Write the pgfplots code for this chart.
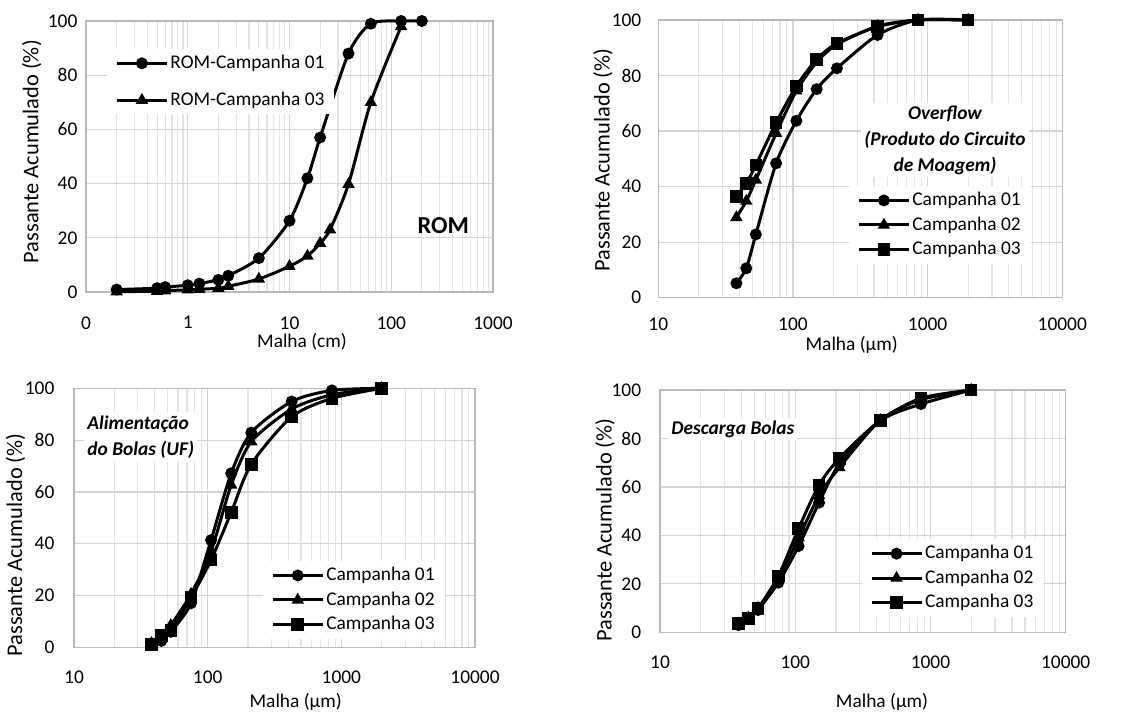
\documentclass[border=0pt]{standalone}
\usepackage{fontspec}
\setmainfont{Carlito}
\usepackage{pgfplots}
\pgfplotsset{compat=1.18}

\pgfplotsset{
  scale only axis,
  ymin=0, ymax=100, ytick={0,20,...,100},
  grid=both,
  major grid style={draw=black!17, line width=0.6pt},
  minor grid style={draw=black!11, line width=0.6pt},
  axis line style={draw=black!28, line width=0.6pt},
  major tick length=0pt, minor tick length=0pt,
  /pgf/number format/assume math mode=true,
  clip=false,
  legend cell align=left,
  legend image code/.code={\draw[mark repeat=2,mark phase=2,#1,line width=1.5pt] plot coordinates {(0pt,0pt) (12.5pt,0pt) (25pt,0pt)};},
  legend style={draw=none, fill=white, anchor=north west, inner xsep=4pt, inner ysep=2pt,
    nodes={inner sep=1pt}, row sep=2pt},
}

\begin{document}
\begin{tikzpicture}[font=\fontsize{9.7}{11.6}\selectfont]
\useasboundingbox (0,0) rectangle (569pt,-356.5pt);

% ROM
\begin{semilogxaxis}[anchor=south west, at={(43pt,-146pt)}, width=203.5pt, height=135.5pt,
  xmin=0.1, xmax=1000, xtick={0.1,1,10,100,1000}, xticklabels={0,1,10,100,1000},
  minor xtick={0.2,0.3,0.4,0.5,0.6,0.7,0.8,0.9,2,3,4,5,6,7,8,9,20,30,40,50,60,70,80,90,200,300,400,500,600,700,800,900},
  xticklabel style={yshift=-8.7pt}, yticklabel style={xshift=-0.8pt},
  legend style={at={(0.0516,0.898)}, row sep=8.2pt}]
\addplot[black, line width=1.5pt, smooth, tension=0.45, mark=*, mark size=2.2pt] coordinates {(0.2,0.9) (0.5,1.4) (0.6,1.8) (1,2.5) (1.3,3.1) (2,4.5) (2.5,6.0) (5,12.5) (10,26.3) (15,42) (20,57) (38,88) (63,99) (125,100) (200,100)};
\addplot[black, line width=1.5pt, smooth, tension=0.45, mark=triangle*, mark size=2.1pt] coordinates {(0.2,0.1) (0.5,0.3) (0.6,0.5) (1,0.8) (1.3,1.0) (2,1.4) (2.5,2.1) (5,4.8) (10,9.5) (15,13.3) (20,18) (25,23) (38,39.8) (63,70) (125,98)};
\legend{ROM-Campanha 01,ROM-Campanha 03}
\end{semilogxaxis}

% Overflow
\begin{semilogxaxis}[anchor=south west, at={(329.15pt,-148.85pt)}, width=202pt, height=138.85pt,
  xmin=10, xmax=10000, xtick={10,100,1000,10000}, xticklabels={10,100,1000,10000},
  minor xtick={20,30,40,50,60,70,80,90,200,300,400,500,600,700,800,900,2000,3000,4000,5000,6000,7000,8000,9000},
  xticklabel style={yshift=-6.4pt}, yticklabel style={xshift=-5pt},
  legend style={at={(0.472,0.403)}}]
\addplot[black, line width=1.5pt, smooth, tension=0.45, mark=*, mark size=2.2pt] coordinates {(38,5.2) (45,10.6) (53,22.8) (75,48.4) (106,63.7) (150,75.1) (212,82.6) (425,94.6) (850,100) (2000,100)};
\addplot[black, line width=1.5pt, smooth, tension=0.45, mark=triangle*, mark size=2.1pt] coordinates {(38,28.9) (45,34.8) (53,42.4) (75,59.2) (106,74.5) (150,84.8) (212,91.2) (425,97.8) (850,100) (2000,100)};
\addplot[black, line width=1.5pt, smooth, tension=0.45, mark=square*, mark size=2.4pt] coordinates {(38,36.4) (45,41.2) (53,47.8) (75,63) (106,76.2) (150,85.8) (212,91.6) (425,97.6) (850,100) (2000,100)};
\legend{Campanha 01,Campanha 02,Campanha 03}
\end{semilogxaxis}

% Alimentacao
\begin{semilogxaxis}[anchor=south west, at={(37pt,-323.65pt)}, width=200.5pt, height=129.5pt,
  xmin=10, xmax=10000, xtick={10,100,1000,10000}, xticklabels={10,100,1000,10000},
  minor xtick={20,30,40,50,60,70,80,90,200,300,400,500,600,700,800,900,2000,3000,4000,5000,6000,7000,8000,9000},
  xticklabel style={yshift=-8.4pt}, yticklabel style={xshift=-6.3pt},
  legend style={at={(0.471,0.334)}}]
\addplot[black, line width=1.5pt, smooth, tension=0.45, mark=*, mark size=2.2pt] coordinates {(38,1.5) (45,2.5) (53,6) (75,17) (106,41.4) (150,67.2) (212,82.9) (425,94.9) (850,99.2) (2000,100)};
\addplot[black, line width=1.5pt, smooth, tension=0.45, mark=triangle*, mark size=2.1pt] coordinates {(38,1.5) (45,4) (53,8.5) (75,20.5) (106,37) (150,62.7) (212,79.4) (425,92) (850,97.5) (2000,100)};
\addplot[black, line width=1.5pt, smooth, tension=0.45, mark=square*, mark size=2.4pt] coordinates {(38,1) (45,4.5) (53,6.4) (75,19.2) (106,33.7) (150,52.1) (212,70.7) (425,89) (850,96.1) (2000,100)};
\legend{Campanha 01,Campanha 02,Campanha 03}
\end{semilogxaxis}

% Descarga
\begin{semilogxaxis}[anchor=south west, at={(330pt,-316.15pt)}, width=202.85pt, height=121.15pt,
  xmin=10, xmax=10000, xtick={10,100,1000,10000}, xticklabels={10,100,1000,10000},
  minor xtick={20,30,40,50,60,70,80,90,200,300,400,500,600,700,800,900,2000,3000,4000,5000,6000,7000,8000,9000},
  xticklabel style={yshift=-8.4pt}, yticklabel style={xshift=-5.9pt},
  legend style={at={(0.497,0.385)}}]
\addplot[black, line width=1.5pt, smooth, tension=0.45, mark=*, mark size=2.2pt] coordinates {(38,3) (45,5.5) (53,9.2) (75,20.5) (106,35.6) (150,53.5) (212,69.5) (425,87.3) (850,94.2) (2000,100)};
\addplot[black, line width=1.5pt, smooth, tension=0.45, mark=triangle*, mark size=2.1pt] coordinates {(38,3.5) (45,6) (53,10) (75,22) (106,39) (150,56.5) (212,68) (425,87.5) (850,96) (2000,100)};
\addplot[black, line width=1.5pt, smooth, tension=0.45, mark=square*, mark size=2.4pt] coordinates {(38,3.7) (45,5.8) (53,9.9) (75,23.2) (106,42.9) (150,60.8) (212,71.8) (425,87.5) (850,96.6) (2000,100)};
\legend{Campanha 01,Campanha 02,Campanha 03}
\end{semilogxaxis}

\begin{scope}[x=0.5pt, y=-0.5pt]
\begin{scope}[font=\fontsize{11.2}{13}\selectfont]
\node[rotate=90] at (31.7,151.7) {Passante Acumulado (\%)};
\node[rotate=90] at (603,160) {Passante Acumulado (\%)};
\node[rotate=90] at (15.5,545) {Passante Acumulado (\%)};
\node[rotate=90] at (605,530) {Passante Acumulado (\%)};
\end{scope}
\node at (302,342) {Malha (cm)};
\node at (851.7,345) {Malha (µm)};
\node at (295.7,701.7) {Malha (µm)};
\node at (882,701.7) {Malha (µm)};
\node[font=\fontsize{12.2}{14}\selectfont\bfseries] at (443.3,226) {ROM};
\node[fill=white, inner sep=1.5pt, align=center, font=\fontsize{9.7}{13}\selectfont\bfseries\itshape] at (945,140) {Overflow\\(Produto do Circuito\\de Moagem)};
\node[fill=white, inner sep=1.5pt, align=left, anchor=west, font=\fontsize{9.7}{13.3}\selectfont\bfseries\itshape] at (84,437) {Alimentação\\do Bolas (UF)};
\node[fill=white, inner sep=1.5pt, anchor=west, font=\fontsize{9.7}{11.6}\selectfont\bfseries\itshape] at (668,429) {Descarga Bolas};
\end{scope}
\end{tikzpicture}
\end{document}
